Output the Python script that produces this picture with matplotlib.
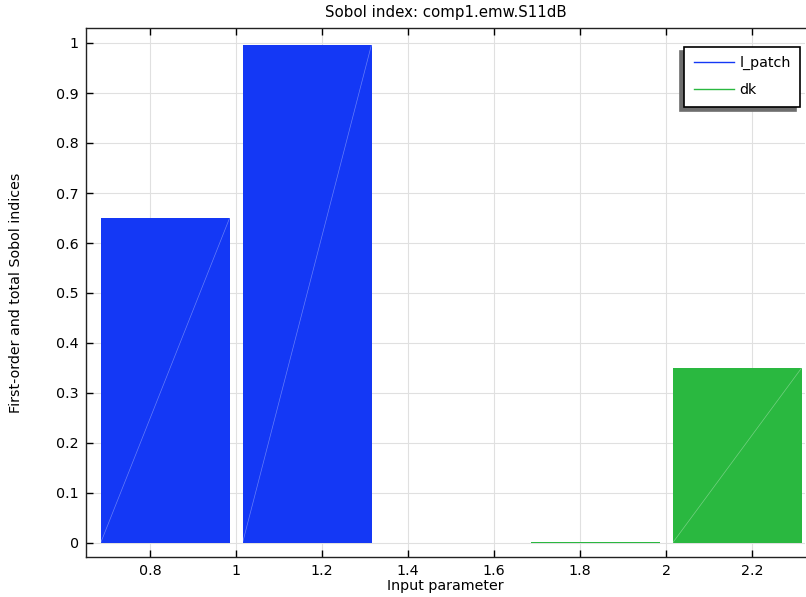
import matplotlib
matplotlib.use("Agg")
import matplotlib.pyplot as plt
from matplotlib.lines import Line2D

# Data
params = ["l_patch", "dk"]
first_order = [0.65, 0.003]
total = [0.997, 0.35]
group_x = [1.0, 2.0]
colors = ["#1438F5", "#2AB840"]

fig = plt.figure(figsize=(8.06, 5.97), dpi=100)
ax = fig.add_axes([86/806, 1-557/597, (805-86)/806, (557-28)/597])

offset = 0.165
width = 0.3
for gx, fo, tt, c in zip(group_x, first_order, total, colors):
    for xc, h in ((gx - offset, fo), (gx + offset, tt)):
        ax.bar(xc, h, width=width, color=c, edgecolor="none", zorder=2)
        if h > 0.05:
            ax.plot([xc - width/2, xc + width/2], [0, h], color="white",
                    lw=0.5, alpha=0.35, zorder=3)

ax.set_xlim(0.651, 2.323)
ax.set_ylim(-0.028, 1.03)
ax.set_xticks([0.8, 1.0, 1.2, 1.4, 1.6, 1.8, 2.0, 2.2])
ax.set_xticklabels(["0.8", "1", "1.2", "1.4", "1.6", "1.8", "2", "2.2"])
ax.set_yticks([i/10 for i in range(11)])
ax.set_yticklabels(["0"] + [f"0.{i}" for i in range(1, 10)] + ["1"])
ax.grid(True, color="#e0e0e0", lw=0.8, zorder=0)
ax.set_axisbelow(True)
ax.tick_params(direction="in", length=5, width=1, top=True, right=False,
               labelsize=10.3, colors="black", pad=5)
for s in ax.spines.values():
    s.set_color("#222222")
    s.set_linewidth(1.0)
ax.spines["right"].set_visible(False)

ax.set_title("Sobol index: comp1.emw.S11dB", fontsize=10.8, pad=8)
ax.set_xlabel("Input parameter", fontsize=10.3, labelpad=1)
ax.set_ylabel("First-order and total Sobol indices", fontsize=10.3, labelpad=24)

handles = [Line2D([0], [0], color=c, lw=1) for c in colors]
leg = ax.legend(handles, params, loc="upper right", bbox_to_anchor=(0.993, 0.964),
                fontsize=10.3, frameon=True, fancybox=False,
                shadow=dict(ox=-2.8, oy=-2.8, color="#6e6e6e", alpha=1),
                edgecolor="black", handlelength=2.85, handletextpad=0.35,
                borderpad=0.65, labelspacing=0.9, borderaxespad=0)
leg.get_frame().set_linewidth(1.2)

fig.savefig("out.png", dpi=100)
